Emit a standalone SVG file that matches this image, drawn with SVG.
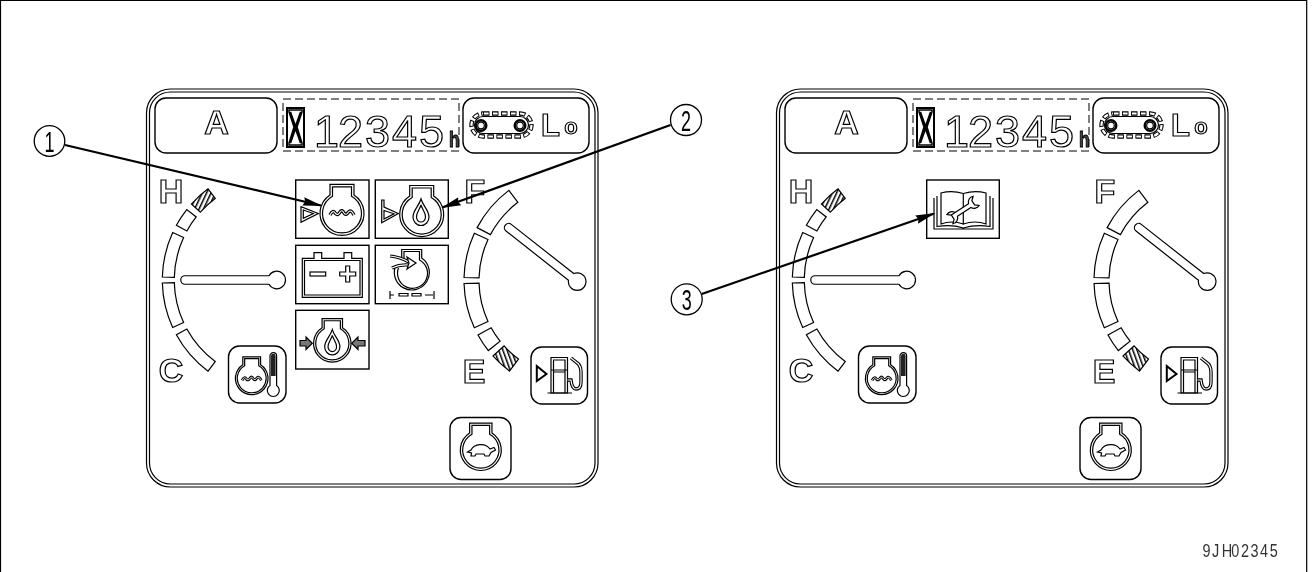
<svg xmlns="http://www.w3.org/2000/svg" width="1312" height="572" viewBox="0 0 1312 572">
<style>
.l{fill:none;stroke:#000;stroke-width:1.2}
.w{fill:#fff;stroke:#000;stroke-width:1.2}
.box{fill:#fff;stroke:#000;stroke-width:1.4}
.ns{vector-effect:non-scaling-stroke}
text{filter:url(#gray)}
.big{font-family:"Liberation Sans",Arial,sans-serif;font-weight:700;font-size:34px;fill:#fff;stroke:#000;stroke-width:1.2}
.dig{font-family:"Liberation Sans",Arial,sans-serif;font-size:45px;fill:#fff;stroke:#000;stroke-width:1.2}
.hr{font-family:"Liberation Sans",Arial,sans-serif;font-weight:700;font-size:31px;fill:#444;stroke:#000;stroke-width:1.4}
.num{font-family:"Liberation Sans",Arial,sans-serif;font-size:29px;fill:#000;text-anchor:middle}
.code{font-family:"Liberation Sans",Arial,sans-serif;font-size:17px;fill:#333}
.c{fill:#fff;stroke:#000;stroke-width:1.3}
.ar{fill:none;stroke:#000;stroke-width:2.2}
</style>
<defs>
<filter id="gray" x="-30%" y="-30%" width="160%" height="160%" color-interpolation-filters="sRGB"><feOffset dx="0" dy="0"/></filter>
<marker id="head" markerUnits="userSpaceOnUse" markerWidth="22" markerHeight="11" viewBox="0 0 22 11" refX="18" refY="5.5" orient="auto">
<path d="M0 1.2L20 5.5L0 9.8L2 5.5Z" fill="#000"/>
</marker>
<pattern id="h1" width="4" height="4" patternUnits="userSpaceOnUse" patternTransform="rotate(25)"><rect width="4" height="4" fill="#fff"/><rect width="1.5" height="4" fill="#000"/></pattern>
<pattern id="h2" width="4" height="4" patternUnits="userSpaceOnUse" patternTransform="rotate(-20)"><rect width="4" height="4" fill="#fff"/><rect width="1.5" height="4" fill="#000"/></pattern>
<g id="engine">
<path class="w ns" d="M-12 -18.4V-29H12V-18.4A22 22 0 1 1 -12 -18.4Z"/>
<path class="l ns" d="M-9.5 -17V-26.5H9.5V-17A19.5 19.5 0 1 1 -9.5 -17Z"/>
</g>
<g id="drop">
<path class="w ns" d="M0 -14C-2 -7 -8 -3 -8 4A8 8.5 0 0 0 8 4C8 -3 2 -7 0 -14Z"/>
<path class="l ns" d="M0 -8C-1 -4 -4.5 -1 -4.5 4A4.5 5 0 0 0 4.5 4C4.5 -1 1 -4 0 -8Z"/>
</g>
<g id="wave">
<path fill="none" stroke="#000" stroke-width="3.4" d="M-12 3Q-9 -3 -6.5 1.5Q-4 4 -2 0Q0 -3 2 1Q4 4 6.5 0Q9 -3 12 3"/>
<path fill="none" stroke="#fff" stroke-width="1.1" d="M-12 3Q-9 -3 -6.5 1.5Q-4 4 -2 0Q0 -3 2 1Q4 4 6.5 0Q9 -3 12 3"/>
</g>
<g id="frame">
<rect class="l" x="146.5" y="89" width="451.5" height="398" rx="24"/>
<rect class="l" x="149.5" y="92" width="445.5" height="392" rx="21"/>
<rect class="box" x="155" y="98" width="122" height="55" rx="11"/>
<rect x="283" y="99" width="176" height="52" fill="none" stroke="#000" stroke-width="1" stroke-dasharray="8 4"/>
<rect x="287" y="108" width="17" height="39" fill="#fff" stroke="#000" stroke-width="2"/>
<path d="M289 110H302V112L297 127L302 143V145H289V143L294 127L289 112Z" fill="#fff" stroke="#000" stroke-width="1.5"/>
<path d="M290 112L301 143M301 112L290 143" stroke="#000" stroke-width="2.4" fill="none"/>
<rect class="box" x="463" y="98" width="126" height="55" rx="11"/>
<rect x="471.5" y="113.5" width="60" height="23" rx="11.5" fill="#fff" stroke="#000" stroke-width="4.4" stroke-dasharray="6.5 2.5"/>
<rect x="471.5" y="113.5" width="60" height="23" rx="11.5" fill="none" stroke="#fff" stroke-width="2.2" stroke-dasharray="4.7 4.3" stroke-dashoffset="-0.9"/>
<rect class="w" x="474.5" y="116.5" width="54" height="17" rx="8.5"/>
<circle cx="481" cy="125.5" r="5.3" fill="#fff" stroke="#000" stroke-width="2.4"/><circle class="w" cx="481" cy="125.5" r="3.3"/>
<circle cx="520" cy="125.5" r="5.3" fill="#fff" stroke="#000" stroke-width="2.4"/><circle class="w" cx="520" cy="125.5" r="3.3"/>
<path class="w" d="M162.34 277.02A113.7 113.7 0 0 1 172.7 232.5L183.6 237.5A101.7 101.7 0 0 0 174.33 277.34Z"/>
<path class="w" d="M176.37 225.22A113.7 113.7 0 0 1 186.77 209.53L196.19 216.97A101.7 101.7 0 0 0 186.88 231Z"/>
<path class="w" style="fill:url(#h1)" d="M191.37 204.07A113.7 113.7 0 0 1 208.05 188.84L215.22 198.46A101.7 101.7 0 0 0 200.31 212.09Z"/>
<path class="w" d="M162.34 282.98A113.7 113.7 0 0 0 172.7 327.5L183.6 322.5A101.7 101.7 0 0 1 174.33 282.66Z"/>
<path class="w" d="M176.37 334.78A113.7 113.7 0 0 0 208.05 371.16L215.22 361.54A101.7 101.7 0 0 1 186.88 329Z"/>
<path class="w" d="M-91.5 -4.25H-7.5A8.8 8.8 0 1 1 -7.5 4.25H-91.5A4.25 4.25 0 0 1 -91.5 -4.25Z" transform="translate(276.5 280)"/>
<path class="w" d="M477.13 227.63A113 113 0 0 1 508.84 190.37L517.89 202.34A98 98 0 0 0 490.39 234.65Z"/>
<path class="w" d="M464.04 277.54A113 113 0 0 1 474.34 233.28L487.97 239.55A98 98 0 0 0 479.03 277.93Z"/>
<path class="w" d="M464.04 283.46A113 113 0 0 0 474.34 327.72L487.97 321.45A98 98 0 0 1 479.03 283.07Z"/>
<path class="w" d="M477.98 334.94A113 113 0 0 0 488.32 350.54L500.09 341.24A98 98 0 0 1 491.12 327.72Z"/>
<path class="w" style="fill:url(#h2)" d="M492.9 355.96A113 113 0 0 0 509.47 371.1L518.44 359.08A98 98 0 0 1 504.06 345.94Z"/>
<path class="w" d="M-87 -4.25H-7.5A8.8 8.8 0 1 1 -7.5 4.25H-87A4.25 4.25 0 0 1 -87 -4.25Z" transform="translate(577 281.5) rotate(38.2)"/>
<rect class="box" x="228.5" y="346" width="57.5" height="57" rx="11"/>
<use href="#engine" transform="translate(251.7 378.3) scale(.74)"/>
<use href="#wave" transform="translate(251.7 378) scale(.8)"/>
<path class="w" d="M270 356A3.3 3.3 0 0 1 276.6 356V385.5A6 6 0 1 1 270 385.5Z"/>
<path d="M271 356A2.3 2.3 0 0 1 275.6 356V376H271Z" fill="#222"/>
<rect class="box" x="531" y="347" width="56.5" height="57" rx="11"/>
<path d="M536.8 366L546.5 374L536.8 381Z" fill="#fff" stroke="#000" stroke-width="2"/>
<path class="w" d="M551 393V357.5H567.5V393Z"/>
<path class="l" d="M547.5 393H572M553.5 393V360H565V393M551 370H567.5M553 372H565"/>
<path d="M567.5 380H571Q572 389 576 389Q581 389 581 382V372Q581 365 576 362L571 358" fill="none" stroke="#000" stroke-width="3.4"/>
<path d="M567.5 380H571Q572 389 576 389Q581 389 581 382V372Q581 365 576 362L571 358" fill="none" stroke="#fff" stroke-width="1.2"/>
<rect class="box" x="450" y="417.5" width="61" height="62" rx="11"/>
<use href="#engine" transform="translate(480.8 450) scale(.93)"/>
<path class="w" d="M467.5 452L471 450C474 444 485 442 490 449L494 447.5L495.5 450L491 452.5L489 456H485L484 454H476L475 456H471L471.5 453Z"/>
</g>
<g id="wrench"><path class="w" d="M-13 -2.2H8A6 6 0 0 1 16 -6L12.5 -3V2L16 5A6 6 0 0 1 8 2.2H-8A6 6 0 0 1 -16 6L-12.5 3V-2L-16 -5A6 6 0 0 1 -8 -2.2Z"/></g>
</defs>
<path id="page-frame" class="l" d="M0.5 572V0.5H1306.7V572"/>
<g id="panel-left">
<use href="#frame"/>
<text class="big" x="216.5" y="134" text-anchor="middle">A</text>
<text class="dig" x="314 338 365 392 419" y="147">12345</text>
<text class="hr" transform="translate(449 147) scale(.56 .72)">h</text>
<text class="big" x="171" y="203" text-anchor="middle">H</text>
<text class="big" x="171" y="382" text-anchor="middle">C</text>
<text class="big" x="474" y="383" text-anchor="middle">E</text>
<text class="big" x="475" y="203" text-anchor="middle">F</text>
<text class="big" x="541" y="135.5" style="font-size:31px">L</text>
<text class="big" x="571" y="133.5" text-anchor="middle" style="font-size:22px">o</text>
</g>
<g id="panel-right">
<use href="#frame" transform="translate(630 0)"/>
<text class="big" x="846.5" y="134" text-anchor="middle">A</text>
<text class="dig" x="944 968 995 1022 1049" y="147">12345</text>
<text class="hr" transform="translate(1079 147) scale(.56 .72)">h</text>
<text class="big" x="801" y="203" text-anchor="middle">H</text>
<text class="big" x="801" y="382" text-anchor="middle">C</text>
<text class="big" x="1104" y="383" text-anchor="middle">E</text>
<text class="big" x="1105" y="203" text-anchor="middle">F</text>
<text class="big" x="1171" y="135.5" style="font-size:31px">L</text>
<text class="big" x="1201" y="133.5" text-anchor="middle" style="font-size:22px">o</text>
</g>
<g id="icon-coolant">
<rect class="box" x="295.7" y="180" width="73.3" height="58.3"/>
<use href="#engine" transform="translate(342 213.3)"/>
<use href="#wave" transform="translate(342 212)"/>
<path class="l" d="M301 206.7V222.3L318.3 213.5ZM303.3 210V218.3L313.3 213.5Z"/>
</g>
<g id="icon-oil">
<rect class="box" x="375.3" y="180" width="73" height="58.3"/>
<use href="#engine" transform="translate(421.7 214.5)"/>
<use href="#drop" transform="translate(421 213)"/>
<path class="l" d="M381.7 200H384V207L398.3 213.5L381.7 222.7ZM384 210.5V219L394 213.8Z"/>
</g>
<g id="icon-battery">
<rect class="box" x="295.7" y="245.3" width="73.3" height="58.4"/>
<path class="l" d="M302.3 258.3H314V252.7H321.7V258.3H344V252.7H351.7V258.3H362.3V297.3H302.3Z"/>
<path class="l" d="M304.5 260.5H360V295H304.5Z"/>
<rect class="l" x="310" y="272" width="15.7" height="4"/>
<path class="l" d="M345.7 266H349.7V272H355.7V276H349.7V282H345.7V276H339.7V272H345.7Z"/>
</g>
<g id="icon-air">
<rect class="box" x="375.3" y="245.3" width="73" height="58.4"/>
<path class="l" d="M401.7 260V249.5H421.7V258A17.5 17.5 0 1 1 396 265"/>
<path class="l" d="M404 259V251.5H419.5V260A15 15 0 1 1 398.5 268"/>
<path d="M390 256Q400 257 409 262" fill="none" stroke="#000" stroke-width="3.2"/>
<path d="M390 256Q400 257 409 262" fill="none" stroke="#fff" stroke-width="1.2"/>
<path d="M392 268Q400 264 409 265" fill="none" stroke="#000" stroke-width="3.2"/>
<path d="M392 268Q400 264 409 265" fill="none" stroke="#fff" stroke-width="1.2"/>
<path class="w" d="M407 257L416 263L407 269L409 263Z"/>
<path class="l" d="M390 291V299M390.5 295H394M399 293.5H408V296H399ZM412 293.5H421V296H412ZM425 295H433M434 291V299"/>
</g>
<g id="icon-pressure">
<rect class="box" x="295.7" y="310.3" width="73.3" height="58.7"/>
<use href="#engine" transform="translate(332.3 343.3) scale(.85)"/>
<use href="#drop" transform="translate(332.3 343) scale(.95)"/>
<path d="M300 340.5H306V337L312.3 343.3L306 349.5V346H300Z" fill="#777" stroke="#000" stroke-width="1.2"/>
<path d="M365 340.5H358V337L351.7 343.3L358 349.5V346H365Z" fill="#777" stroke="#000" stroke-width="1.2"/>
</g>
<g id="icon-manual">
<rect class="box" x="926.7" y="180" width="72.6" height="58.3"/>
<path class="l" d="M934 198V229H993V198M937 196V226.5Q951 224 963.3 228Q976 224 990 226.5V196"/>
<path class="w" d="M941 193Q952 190 963.3 193.5V224Q952 220 941 224ZM963.3 193.5Q975 190 986 193V224Q975 220 963.3 224Z"/>
<use href="#wrench" transform="translate(963 210) rotate(-33)"/>
</g>
<g id="connectors">
<line class="ar" x1="65" y1="145" x2="320.8" y2="205.5" marker-end="url(#head)"/>
<line class="ar" x1="670.5" y1="125" x2="442.9" y2="207.3" marker-end="url(#head)"/>
<line class="ar" x1="701.7" y1="294" x2="933.6" y2="213.7" marker-end="url(#head)"/>
</g>
<g id="callout-1"><circle class="c" cx="49.5" cy="141" r="15.3"/><text class="num" transform="translate(49.5 151.5) scale(.62 1)">1</text></g>
<g id="callout-2"><circle class="c" cx="686" cy="120" r="15.5"/><text class="num" transform="translate(686 130.5) scale(.62 1)">2</text></g>
<g id="callout-3"><circle class="c" cx="686.7" cy="299.3" r="15.5"/><text class="num" transform="translate(686.7 309.8) scale(.62 1)">3</text></g>
<text id="figure-code" class="code" x="0 11.3 22.6 33.9 45.2 56.5 67.8 79.1" y="0" transform="translate(1202.5 557.3) scale(.85 1.03)">9JH02345</text>
</svg>
